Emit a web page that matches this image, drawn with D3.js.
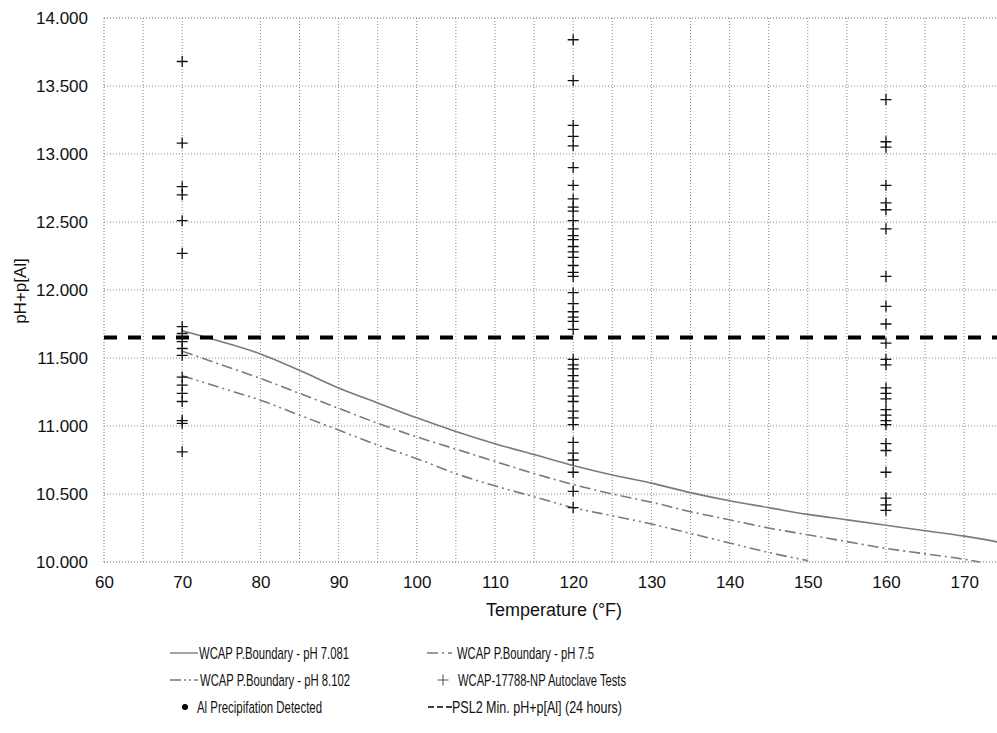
<!DOCTYPE html>
<html><head><meta charset="utf-8">
<script src="https://cdn.jsdelivr.net/npm/d3@7"></script>
<style>
html,body{margin:0;padding:0;background:#fff;}
svg{display:block;}
text{font-family:"Liberation Sans",Arial,sans-serif;fill:#111;}
.leg{font-family:"Liberation Sans Narrow","Arial Narrow","Liberation Sans",Arial,sans-serif;}
</style></head>
<body>
<script>
// ---- data ----
const xTicks = [60,70,80,90,100,110,120,130,140,150,160,170];
const xMinorGrid = [65,85,95,105,115,125,135,145,155,165];
const yTicks = [10,10.5,11,11.5,12,12.5,13,13.5,14];

const curve7081 = [[70,11.70],[75,11.62],[80,11.53],[85,11.41],[90,11.28],[95,11.17],[100,11.06],[105,10.96],[110,10.87],[115,10.79],[120,10.71],[125,10.64],[130,10.58],[135,10.51],[140,10.45],[145,10.40],[150,10.35],[155,10.31],[160,10.27],[165,10.23],[170,10.19],[175,10.14]];
const curve75 = [[70,11.55],[75,11.45],[80,11.35],[85,11.24],[90,11.13],[95,11.02],[100,10.92],[105,10.83],[110,10.74],[115,10.65],[120,10.57],[125,10.50],[130,10.44],[135,10.37],[140,10.31],[145,10.25],[150,10.20],[155,10.15],[160,10.10],[165,10.06],[170,10.02],[172,10.00]];
const curve8102 = [[70,11.37],[75,11.28],[80,11.19],[85,11.08],[90,10.97],[95,10.86],[100,10.76],[105,10.65],[110,10.56],[115,10.48],[120,10.40],[125,10.34],[130,10.28],[135,10.21],[140,10.14],[145,10.07],[150,10.01]];

const tests70 = [13.68,13.08,12.76,12.70,12.51,12.27,11.73,11.68,11.62,11.57,11.52,11.36,11.30,11.24,11.18,11.04,11.02,10.81];
const tests120 = [13.84,13.54,13.21,13.13,13.06,12.90,12.77,12.67,12.61,12.58,12.51,12.45,12.40,12.37,12.32,12.28,12.24,12.18,12.13,12.10,11.98,11.90,11.84,11.80,11.77,11.71,11.49,11.45,11.42,11.37,11.33,11.28,11.22,11.18,11.11,11.06,11.01,10.88,10.80,10.75,10.66,10.52,10.40];
const tests160 = [13.40,13.09,13.05,12.77,12.64,12.59,12.45,12.10,11.88,11.75,11.61,11.49,11.45,11.28,11.24,11.20,11.12,11.08,11.04,11.01,10.87,10.82,10.66,10.47,10.42,10.38];
const precipitation = []; // no detected points visible
const psl2Min = 11.65;

const legendItems = [
  {label:"WCAP P.Boundary - pH 7.081", kind:"solid"},
  {label:"WCAP P.Boundary - pH 7.5", kind:"dd1"},
  {label:"WCAP P.Boundary - pH 8.102", kind:"dd2"},
  {label:"WCAP-17788-NP Autoclave Tests", kind:"cross"},
  {label:"Al Precipifation Detected", kind:"dot"},
  {label:"PSL2 Min. pH+p[Al] (24 hours)", kind:"dash"}
];

// ---- layout ----
const W = 997, H = 733;
const svg = d3.select("body").append("svg").attr("width",W).attr("height",H);
const x = d3.scaleLinear().domain([60,174.2]).range([104,997]);
const y = d3.scaleLinear().domain([10,14]).range([562,18]);

svg.append("defs").append("clipPath").attr("id","plot")
  .append("rect").attr("x",104).attr("y",14).attr("width",893).attr("height",552);

const grid = svg.append("g");
grid.selectAll("line.v").data(xTicks.concat(xMinorGrid)).join("line")
  .attr("x1",d=>x(d)).attr("x2",d=>x(d)).attr("y1",y(14)).attr("y2",y(10))
  .attr("stroke",d=>d===60?"#666":"#8a8a8a").attr("stroke-width",1).attr("stroke-dasharray","1,2");
grid.selectAll("line.h").data(yTicks).join("line")
  .attr("x1",x(60)).attr("x2",W).attr("y1",d=>y(d)).attr("y2",d=>y(d))
  .attr("stroke",d=>(d===10||d===14)?"#666":"#8a8a8a").attr("stroke-width",1).attr("stroke-dasharray","1,2");

// axes (labels only)
const xAxis = d3.axisBottom(x).tickValues(xTicks).tickSize(0).tickPadding(0).tickFormat(d3.format("d"));
const gx = svg.append("g").attr("transform",`translate(0,${y(10)+14})`).call(xAxis);
gx.select(".domain").remove();
gx.selectAll("text").attr("font-size",17).attr("font-family","'Liberation Sans',Arial,sans-serif").attr("fill","#111");

const yAxis = d3.axisLeft(y).tickValues(yTicks).tickSize(0).tickPadding(0).tickFormat(d3.format(".3f"));
const gy = svg.append("g").attr("transform",`translate(88,0)`).call(yAxis);
gy.select(".domain").remove();
gy.selectAll("text").attr("font-size",17).attr("font-family","'Liberation Sans',Arial,sans-serif").attr("fill","#111");

svg.append("text").attr("x",554).attr("y",616).attr("text-anchor","middle").attr("font-size",18).text("Temperature (°F)");
svg.append("text").attr("transform","translate(26,291) rotate(-90)").attr("text-anchor","middle").attr("font-size",17).text("pH+p[Al]");

// curves
const plot = svg.append("g").attr("clip-path","url(#plot)");
const line = d3.line().x(d=>x(d[0])).y(d=>y(d[1])).curve(d3.curveMonotoneX);
const curveStyles = [
  {data:curve7081, dash:null},
  {data:curve75, dash:"11,4,2,4"},
  {data:curve8102, dash:"11,4,2,4,2,4"}
];
curveStyles.forEach(c=>{
  plot.append("path").datum(c.data).attr("d",line).attr("fill","none")
    .attr("stroke","#7a7a7a").attr("stroke-width",1.6)
    .attr("stroke-dasharray",c.dash);
});

// PSL2 line
plot.append("line").attr("x1",x(60)).attr("x2",W).attr("y1",y(psl2Min)).attr("y2",y(psl2Min))
  .attr("stroke","#000").attr("stroke-width",4).attr("stroke-dasharray","13,11");

// crosses
const crossPath = "M-5.5,0H5.5M0,-5.5V5.5";
const tests = [].concat(tests70.map(v=>[70,v]),tests120.map(v=>[120,v]),tests160.map(v=>[160,v]));
plot.selectAll("path.cross").data(tests).join("path").attr("class","cross")
  .attr("d",crossPath).attr("transform",d=>`translate(${x(d[0])},${y(d[1])})`)
  .attr("stroke","#111").attr("stroke-width",1.3).attr("fill","none");
plot.selectAll("circle.pre").data(precipitation).join("circle")
  .attr("cx",d=>x(d[0])).attr("cy",d=>y(d[1])).attr("r",3).attr("fill","#000");

// legend
const legPos = [
  {sx:170, ex:198, tx:199, y:653, w:150},
  {sx:427, ex:452, tx:457, y:653, w:137},
  {sx:170, ex:198, tx:200, y:680, w:150},
  {sx:437, ex:449, tx:458, y:680, w:168},
  {sx:180, ex:190, tx:197, y:707, w:125},
  {sx:428, ex:452, tx:452, y:707, w:170}
];
const leg = svg.append("g");
legendItems.forEach((it,i)=>{
  const p = legPos[i];
  if(it.kind==="solid"||it.kind==="dd1"||it.kind==="dd2"){
    leg.append("line").attr("x1",p.sx).attr("x2",p.ex).attr("y1",p.y).attr("y2",p.y)
      .attr("stroke","#7a7a7a").attr("stroke-width",1.4)
      .attr("stroke-dasharray",it.kind==="solid"?null:(it.kind==="dd1"?"11,4,2,4":"11,3,2,3,2,3"));
  } else if(it.kind==="cross"){
    leg.append("path").attr("d",crossPath).attr("transform",`translate(${(p.sx+p.ex)/2},${p.y})`)
      .attr("stroke","#555").attr("stroke-width",1.1);
  } else if(it.kind==="dot"){
    leg.append("circle").attr("cx",(p.sx+p.ex)/2).attr("cy",p.y).attr("r",3).attr("fill","#000");
  } else if(it.kind==="dash"){
    leg.append("line").attr("x1",p.sx).attr("x2",p.ex).attr("y1",p.y).attr("y2",p.y)
      .attr("stroke","#000").attr("stroke-width",1.6).attr("stroke-dasharray","6,3");
  }
  leg.append("text").attr("class","leg").attr("x",p.tx).attr("y",p.y+6)
    .attr("font-size",17).attr("textLength",p.w).attr("lengthAdjust","spacingAndGlyphs")
    .text(it.label);
});
</script>
</body></html>
